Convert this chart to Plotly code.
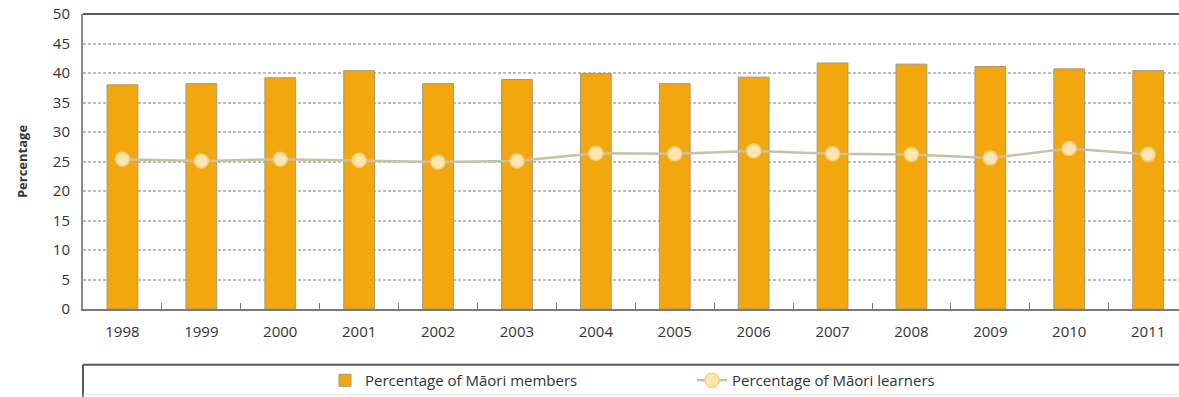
import plotly.graph_objects as go

# Survey years and the two percentage series
years = ["1998", "1999", "2000", "2001", "2002", "2003", "2004",
         "2005", "2006", "2007", "2008", "2009", "2010", "2011"]
maori_members = [38.0, 38.2, 39.2, 40.4, 38.2, 38.9, 39.9,
                 38.2, 39.3, 41.7, 41.5, 41.1, 40.7, 40.4]
maori_learners = [25.4, 25.1, 25.4, 25.2, 24.9, 25.1, 26.4,
                  26.3, 26.8, 26.3, 26.2, 25.6, 27.2, 26.2]
y_ticks = [0, 5, 10, 15, 20, 25, 30, 35, 40, 45, 50]

FONT = "Open Sans"
TEXT = "#333333"

fig = go.Figure()

fig.add_trace(go.Bar(
    x=years, y=maori_members,
    name="Percentage of Māori members",
    width=0.39,
    marker=dict(color="#F2A70F", line=dict(color="#A8987A", width=1)),
))

fig.add_trace(go.Scatter(
    x=years, y=maori_learners,
    name="Percentage of Māori learners",
    mode="lines+markers",
    line=dict(color="#C8C2A4", width=2.5),
    marker=dict(size=14, color="#FDE6B2", line=dict(color="#F7CF78", width=1.5)),
))

# Plot area spans from x=83px to the right edge; bottom at 310px
PLOT_H = 296.0

def py(px):
    # convert a pixel row to paper y coordinate
    return (310 - px) / PLOT_H

shapes = [
    # top frame line
    dict(type="line", xref="paper", yref="paper", x0=0, x1=1.02, y0=1, y1=1,
         line=dict(color="#5a5a5a", width=2)),
    # legend box
    dict(type="line", xref="paper", yref="paper", x0=0, x1=1.02,
         y0=py(366), y1=py(366), line=dict(color="#5a5a5a", width=2)),
    dict(type="line", xref="paper", yref="paper", x0=0, x1=0,
         y0=py(366), y1=py(398), line=dict(color="#5a5a5a", width=2)),
    dict(type="line", xref="paper", yref="paper", x0=0, x1=1.02,
         y0=py(396), y1=py(396), line=dict(color="#e2e2e2", width=1)),
]

fig.update_layout(
    width=1179, height=397,
    margin=dict(l=83, r=0, t=14, b=87),
    paper_bgcolor="white", plot_bgcolor="white",
    font=dict(family=FONT, size=15, color=TEXT),
    showlegend=True,
    legend=dict(
        orientation="h",
        x=(325 - 83) / 1096.0, xanchor="left",
        y=py(382), yanchor="middle",
        font=dict(family=FONT, size=15, color=TEXT),
        entrywidth=322, entrywidthmode="pixels",
        bgcolor="rgba(0,0,0,0)",
    ),
    bargap=0.61,
    shapes=shapes,
)

fig.update_xaxes(
    type="category",
    range=[-0.5, -0.5 + 1096 / 78.9],
    showline=True, linecolor="#7a7a7a", linewidth=2,
    ticks="inside", tickson="boundaries", ticklen=6,
    tickcolor="#7a7a7a", tickwidth=1,
    showgrid=False,
    ticklabelstandoff=8,
    tickfont=dict(family=FONT, size=15, color=TEXT),
)

fig.update_yaxes(
    range=[0, 50],
    tickvals=y_ticks,
    showline=True, linecolor="#8a8a8a", linewidth=2,
    ticks="", ticklabelstandoff=8,
    showgrid=True, gridcolor="#bdbdbd", gridwidth=1.5, griddash="3px,2px",
    zeroline=False,
    tickfont=dict(family=FONT, size=15, color=TEXT),
    title=dict(text="<b>Percentage</b>", standoff=22,
               font=dict(family=FONT, size=13, color=TEXT)),
)

fig.write_html("out.html")
